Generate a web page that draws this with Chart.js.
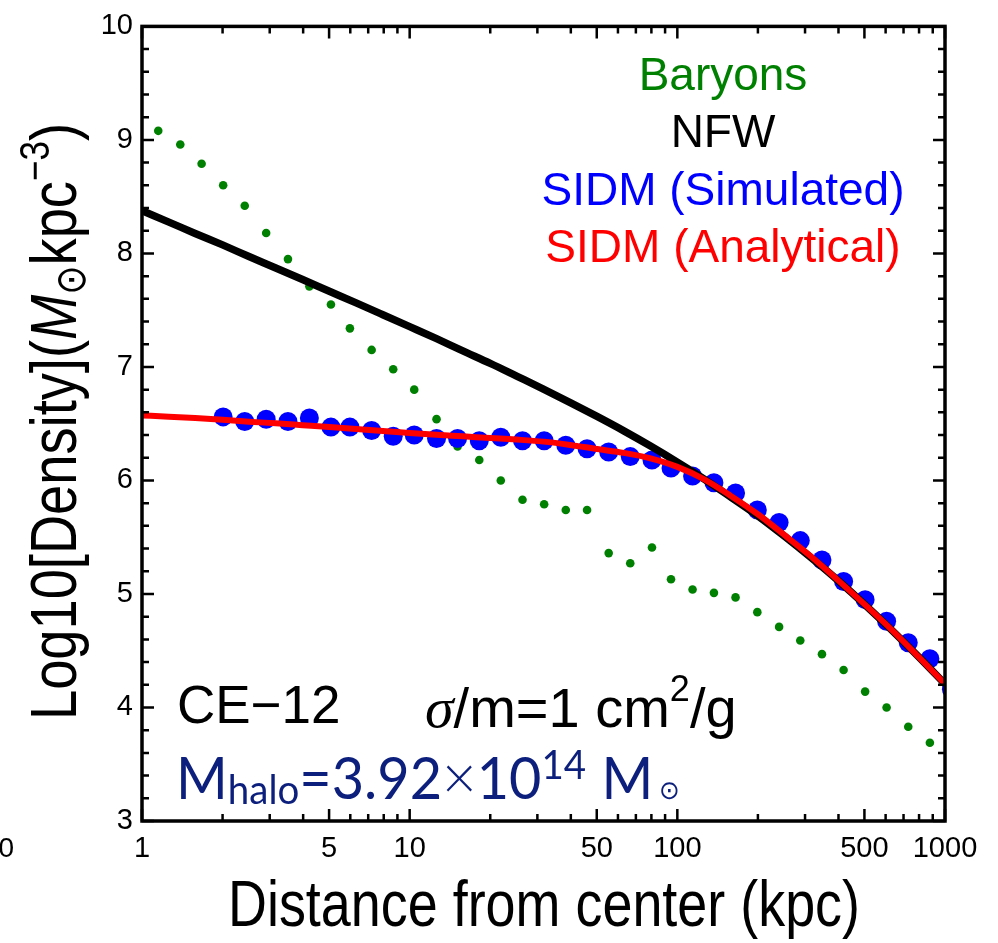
<!DOCTYPE html>
<html>
<head>
<meta charset="utf-8">
<title>SIDM density profile CE-12</title>
<script src="https://cdn.jsdelivr.net/npm/chart.js@4.4.0/dist/chart.umd.min.js"></script>
<style>
  html, body { margin: 0; padding: 0; background: #ffffff; }
  canvas { display: block; }
</style>
</head>
<body>
<canvas id="profile" width="998" height="943"></canvas>
<script>
// Radial bins (kpc) and log10 density of the baryonic component
const baryonR = [1.15, 1.39, 1.67, 2.01, 2.42, 2.91, 3.51, 4.22, 5.08, 5.98, 7.21, 8.68, 10.4, 12.6, 15.1, 18.2, 21.9, 26.4, 31.8, 38.3, 46.0, 55.4, 66.7, 80.4, 94.7, 114, 137, 165, 199, 240, 288, 347, 418, 503, 605, 729, 878];
const baryonLogRho = [9.08, 8.96, 8.79, 8.60, 8.42, 8.18, 7.95, 7.71, 7.55, 7.34, 7.15, 6.98, 6.80, 6.54, 6.30, 6.18, 6.00, 5.83, 5.79, 5.74, 5.74, 5.36, 5.27, 5.41, 5.13, 5.04, 5.01, 4.97, 4.84, 4.71, 4.59, 4.47, 4.33, 4.14, 4.00, 3.83, 3.69];

// Simulated SIDM halo profile
const simR = [2.01, 2.42, 2.91, 3.51, 4.22, 5.08, 5.98, 7.21, 8.68, 10.4, 12.6, 15.1, 18.2, 21.9, 26.4, 31.8, 38.3, 46.0, 55.4, 66.7, 80.4, 94.7, 114, 137, 165, 199, 240, 288, 347, 418, 503, 605, 729, 878, 1057];
const simLogRho = [6.56, 6.52, 6.54, 6.52, 6.55, 6.47, 6.47, 6.44, 6.39, 6.40, 6.37, 6.37, 6.35, 6.38, 6.35, 6.35, 6.31, 6.28, 6.25, 6.21, 6.18, 6.11, 6.04, 5.98, 5.89, 5.74, 5.63, 5.47, 5.30, 5.11, 4.95, 4.76, 4.57, 4.43, 4.16];

// Model curves sampled every 0.1 dex in radius
const curveR = [1, 1.26, 1.58, 2.0, 2.51, 3.16, 3.98, 5.01, 6.31, 7.94, 10, 12.6, 15.8, 20.0, 25.1, 31.6, 39.8, 50.1, 63.1, 79.4, 100, 126, 158, 200, 251, 316, 398, 501, 631, 794, 1000];
const nfwLogRho = [8.377, 8.276, 8.176, 8.075, 7.973, 7.872, 7.770, 7.667, 7.564, 7.460, 7.355, 7.249, 7.141, 7.031, 6.919, 6.805, 6.686, 6.564, 6.437, 6.303, 6.161, 6.012, 5.855, 5.688, 5.510, 5.320, 5.120, 4.908, 4.684, 4.450, 4.207];
const analyticLogRho = [6.573, 6.562, 6.550, 6.535, 6.518, 6.503, 6.487, 6.471, 6.454, 6.436, 6.419, 6.403, 6.389, 6.374, 6.360, 6.342, 6.313, 6.277, 6.243, 6.195, 6.120, 6.010, 5.866, 5.702, 5.520, 5.330, 5.122, 4.908, 4.686, 4.450, 4.207];

// Axis ticks
const xTickValues = [1, 5, 10, 50, 100, 500, 1000];
const yTickValues = [3, 4, 5, 6, 7, 8, 9, 10];

const GREEN = 'rgb(0,128,0)';
const NAVY = '#0c1f7c';
const SANS = '"Liberation Sans", Arial, Helvetica, sans-serif';
const LATO = 'Lato, "Open Sans", sans-serif';

const toPoints = (xs, ys) => xs.map((r, i) => ({ x: r, y: ys[i] }));

// Draw a run of text pieces (optional baseline shift) left to right
function drawRuns(ctx, runs, x, y) {
  let cx = x;
  for (const r of runs) {
    ctx.font = r.font;
    if (r.color) ctx.fillStyle = r.color;
    cx += (r.pre || 0);
    ctx.fillText(r.text, cx, y + (r.dy || 0));
    cx += ctx.measureText(r.text).width + (r.gap || 0);
  }
  return cx - x;
}
function runsWidth(ctx, runs) {
  let w = 0;
  for (const r of runs) { ctx.font = r.font; w += (r.pre || 0) + ctx.measureText(r.text).width + (r.gap || 0); }
  return w;
}

// Frame with inward ticks on all four sides
const framePlugin = {
  id: 'frameTicks',
  afterDatasetsDraw(chart) {
    const { ctx, chartArea: a, scales: { x, y } } = chart;
    ctx.save();
    ctx.strokeStyle = '#000';
    ctx.lineWidth = 2.5;
    ctx.beginPath();
    for (let i = 0; i <= 35; i++) {
      const v = 3 + i * 0.2;
      const py = y.getPixelForValue(v);
      const len = (i % 5 === 0) ? 12 : 7;
      ctx.moveTo(a.left, py); ctx.lineTo(a.left + len, py);
      ctx.moveTo(a.right, py); ctx.lineTo(a.right - len, py);
    }
    const xs = [];
    for (const d of [1, 10, 100]) for (let m = 1; m <= 9; m++) xs.push(m * d);
    xs.push(1000);
    for (const v of xs) {
      const px = x.getPixelForValue(v);
      const len = xTickValues.includes(v) ? 12 : 7;
      ctx.moveTo(px, a.bottom); ctx.lineTo(px, a.bottom - len);
      ctx.moveTo(px, a.top); ctx.lineTo(px, a.top + len);
    }
    ctx.stroke();
    ctx.lineWidth = 3.5;
    ctx.strokeRect(a.left, a.top, a.right - a.left, a.bottom - a.top);
    ctx.restore();
  }
};

// Legend, annotations and axis titles
const textPlugin = {
  id: 'texts',
  afterDraw(chart) {
    const { ctx } = chart;
    ctx.save();
    ctx.textBaseline = 'alphabetic';

    // legend: centred coloured labels taken from the datasets
    const order = ['Baryons', 'NFW', 'SIDM (Simulated)', 'SIDM (Analytical)'];
    const baselines = [90, 147, 205, 262];
    ctx.font = '46px ' + SANS;
    ctx.textAlign = 'center';
    order.forEach((lbl, i) => {
      const ds = chart.data.datasets.find(d => d.label === lbl);
      ctx.fillStyle = ds.legendColor;
      ctx.fillText(lbl, 723, baselines[i]);
    });
    ctx.textAlign = 'left';

    // run label
    ctx.fillStyle = '#000';
    ctx.font = '53px ' + SANS;
    ctx.fillText('CE\u221212', 177, 723);

    // cross section
    drawRuns(ctx, [
      { text: '\u03c3', font: 'italic 58px "Liberation Serif", serif', color: '#000' },
      { text: '/m=1 cm', font: '56px ' + SANS },
      { text: '2', font: '36px ' + SANS, dy: -26 },
      { text: '/g', font: '56px ' + SANS }
    ], 425, 727);

    // halo mass, squeezed to the width of the label block
    const mRuns = [
      { text: 'M', font: '58px ' + LATO, color: NAVY },
      { text: 'halo', font: '40px ' + LATO, dy: 5 },
      { text: '=3.92', font: '58px ' + LATO },
      { text: '\u00d7', font: '300 62px ' + LATO },
      { text: '10', font: '58px ' + LATO },
      { text: '14', font: '40px ' + LATO, dy: -20 },
      { text: 'M', font: '58px ' + LATO, pre: 16, gap: 6 },
      { text: '\u2299', font: '26px "DejaVu Sans", sans-serif' }
    ];
    const mw = runsWidth(ctx, mRuns);
    ctx.save();
    ctx.translate(176, 799);
    ctx.scale(504 / mw, 1);
    drawRuns(ctx, mRuns, 0, 0);
    ctx.restore();

    // x axis title (condensed)
    ctx.fillStyle = '#000';
    ctx.font = '65px ' + SANS;
    const xt = 'Distance from center (kpc)';
    const xw = ctx.measureText(xt).width;
    ctx.save();
    ctx.translate(228, 926);
    ctx.scale(632 / xw, 1);
    ctx.fillText(xt, 0, 0);
    ctx.restore();

    // y axis title (rotated, condensed)
    const yRuns = [
      { text: 'Log10[Density](', font: '65px ' + SANS, color: '#000' },
      { text: 'M', font: 'italic 65px ' + SANS },
      { text: '\u2299', font: '42px "DejaVu Sans", sans-serif', dy: 9 },
      { text: 'kpc', font: '65px ' + SANS },
      { text: '\u22123', font: '42px ' + SANS, dy: -27 },
      { text: ')', font: '65px ' + SANS }
    ];
    const yw = runsWidth(ctx, yRuns);
    ctx.save();
    ctx.translate(76, 720);
    ctx.rotate(-Math.PI / 2);
    ctx.scale(597 / yw, 1);
    drawRuns(ctx, yRuns, 0, 0);
    ctx.restore();

    // stray tick digit at the left edge
    ctx.fillStyle = '#000';
    ctx.font = '28px ' + SANS;
    ctx.textAlign = 'right';
    ctx.fillText('0', 14, 857);
    ctx.restore();
  }
};

new Chart(document.getElementById('profile'), {
  type: 'scatter',
  data: {
    datasets: [
      {
        label: 'SIDM (Analytical)', legendColor: '#ff0000',
        data: toPoints(curveR, analyticLogRho), showLine: true,
        borderColor: '#ff0000', borderWidth: 6, pointRadius: 0,
        cubicInterpolationMode: 'monotone', order: 0, clip: 0
      },
      {
        label: 'NFW', legendColor: '#000000',
        data: toPoints(curveR, nfwLogRho), showLine: true,
        borderColor: '#000000', borderWidth: 7.5, pointRadius: 0,
        cubicInterpolationMode: 'monotone', order: 1, clip: 0
      },
      {
        label: 'SIDM (Simulated)', legendColor: '#0000ff',
        data: toPoints(simR, simLogRho), showLine: false,
        backgroundColor: '#0000ff', borderWidth: 0, pointRadius: 9.5,
        order: 2, clip: 0
      },
      {
        label: 'Baryons', legendColor: GREEN,
        data: toPoints(baryonR, baryonLogRho), showLine: false,
        backgroundColor: GREEN, borderWidth: 0, pointRadius: 4.3,
        order: 3, clip: 0
      }
    ]
  },
  options: {
    responsive: false,
    animation: false,
    devicePixelRatio: 1,
    layout: { padding: { top: 19, right: 53, left: 0, bottom: 0 } },
    plugins: { legend: { display: false }, tooltip: { enabled: false } },
    events: [],
    scales: {
      x: {
        type: 'logarithmic', min: 1, max: 1000, position: 'bottom',
        grid: { display: false, drawTicks: false },
        border: { display: false },
        afterBuildTicks: s => { s.ticks = xTickValues.map(v => ({ value: v })); },
        afterFit: s => { s.height = 122; },
        ticks: {
          autoSkip: false, maxRotation: 0, padding: 11, color: '#000',
          font: { family: SANS, size: 29 },
          callback: v => String(v)
        }
      },
      y: {
        type: 'linear', min: 3, max: 10,
        grid: { display: false, drawTicks: false },
        border: { display: false },
        afterBuildTicks: s => { s.ticks = yTickValues.map(v => ({ value: v })); },
        afterFit: s => { s.width = 142; },
        ticks: {
          padding: 9, color: '#000',
          font: { family: SANS, size: 29 },
          callback: v => String(v)
        }
      }
    }
  },
  plugins: [framePlugin, textPlugin]
});
</script>
</body>
</html>
